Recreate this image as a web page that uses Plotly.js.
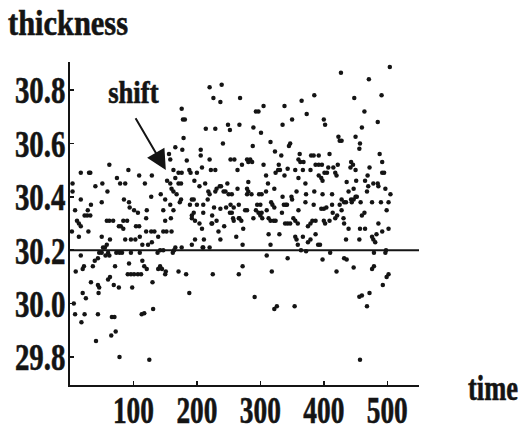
<!DOCTYPE html>
<html>
<head>
<meta charset="utf-8">
<script src="https://cdn.plot.ly/plotly-3.0.1.min.js"></script>
<style>
  html, body { margin: 0; padding: 0; background: #ffffff; }
  #chart { width: 526px; height: 439px; }
</style>
</head>
<body>
<div id="chart"></div>
<script>
// ---- data (time, thickness) ----
const timeA = [62,17,32,92,109,129,74,51,40,79, 87,118,59,4,4,128,85,93,17,50, 33,94,101,107,121,28,8,23,27,32, 11,14,58,62,68,84,90,120,77,80, 104,109,17,84,29,120,128,133,14,50, 63,87,96,103,110,58,55,52,114,123, 129,
  46,50,60,73,78,82,96,110,17,62, 56,44,39,36,71,93,114,117,121,22, 20,9,63,60,91,96,101,107,112,130, 33,44,46,69,77,98,20,25,45, 30,3];
const thickA = [30.52,30.49,30.49,30.50,30.48,30.48,30.47,30.45,30.44,30.45, 30.45,30.45,30.42,30.45,30.42,30.40,30.39,30.38,30.39,30.38, 30.37,30.36,30.35,30.34,30.35,30.35,30.35,30.33,30.33,30.33, 30.31,30.30,30.31,30.31,30.31,30.31,30.31,30.32,30.29,30.29, 30.29,30.29,30.29,30.28,30.27,30.27,30.27,30.27,30.25,30.25, 30.24,30.24,30.24,30.24,30.25,30.22,30.21,30.21,30.22,30.22, 30.23,
  30.19,30.19,30.19,30.19,30.19,30.19,30.19,30.19,30.18,30.18, 30.18,30.17,30.16,30.14,30.14,30.15,30.16,30.14,30.13,30.14, 30.13,30.12,30.10,30.09,30.11,30.11,30.11,30.11,30.11,30.08, 30.08,30.07,30.06,30.07,30.06,30.06,30.04,30.02,30.04, 30.49,30.27];

const timeB = [166,177,206,206,241,156,158,184,220,253,259,
  163,171,176,188,190,200,208,222,229,264,
  153,158,166,171,175,196,213,236,238,248,
  160,163,204,229,231,242,245,264,
  143,168,218,220,150,173,175,192,195,217,250,255,
  158,189,200,210,227,237,246,253,258,266,
  147,163,252,255,195,192,210,224,
  159,257,266,150,192,197,204,224,231,258,
  243,208,223,139,147,152,160,234,262,
  197,211,237,192,209,210,220,176,166,164,142,138,147,162,
  142,139,145,151,150,171,183,225,266,188];
const thickB = [30.586,30.576,30.576,30.555,30.60,30.56,30.54,30.536,30.54,30.54,30.54,
  30.50,30.49,30.49,30.50,30.49,30.49,30.51,30.50,30.50,30.50,
  30.46,30.45,30.47,30.45,30.45,30.46,30.45,30.44,30.44,30.45,
  30.43,30.42,30.44,30.42,30.43,30.42,30.42,30.43,
  30.41,30.41,30.42,30.41,30.39,30.38,30.39,30.39,30.39,30.39,30.41,30.41,
  30.37,30.37,30.37,30.37,30.36,30.355,30.36,30.37,30.36,30.37,
  30.35,30.35,30.34,30.34,30.34,30.33,30.34,30.33,
  30.32,30.32,30.32,30.31,30.32,30.31,30.30,30.30,30.31,30.31,
  30.29,30.28,30.30,30.25,30.27,30.27,30.27,30.27,30.25,
  30.24,30.24,30.24,30.22,30.21,30.21,30.21,30.21,30.21,30.20,30.20,30.19,30.20,30.19,
  30.14,30.13,30.13,30.12,30.11,30.12,30.11,30.11,30.11,30.04];

const timeC = [288,316,347,345,323,333,362,360,380,384,392,
  271,279,284,287,281,305,329,328,331,324,343,355,363,368,367,379,387,392,397,
  309,338,392,396,398,281,312,360,371,
  279,281,286,279,298,302,309,322,357,372,385,335,349,350,371,398,
  317,319,295,300,322,337,340,342,384,
  276,279,293,297,302,300,303,310,334,360,396,400,
  267,270,289,313,316,321,324,352,355,359,339,343,347,375,379,382,387,400,
  273,313,330,355,357,367,375,379,387,391,394,272,316,359,364,372,
  310,343,398,272,318,291];
const thickC = [30.59,30.605,30.60,30.59,30.57,30.555,30.56,30.54,30.555,30.555,30.555,
  30.52,30.54,30.54,30.53,30.53,30.52,30.52,30.50,30.50,30.49,30.505,30.50,30.53,30.53,30.50,30.50,30.52,30.52,30.52,
  30.48,30.48,30.48,30.47,30.46,30.455,30.45,30.47,30.45,
  30.43,30.42,30.41,30.41,30.41,30.41,30.42,30.43,30.42,30.41,30.42,30.40,30.40,30.39,30.38,30.41,
  30.38,30.37,30.37,30.37,30.36,30.37,30.37,30.37,30.37,
  30.35,30.35,30.35,30.34,30.34,30.33,30.32,30.35,30.34,30.35,30.355,30.355,
  30.32,30.31,30.32,30.32,30.31,30.31,30.31,30.32,30.31,30.30,30.30,30.30,30.30,30.29,30.30,30.31,30.31,30.31,
  30.28,30.26,30.26,30.25,30.24,30.25,30.23,30.24,30.26,30.22,30.22,30.22,30.22,30.22,30.20,30.196,
  30.18,30.17,30.165,30.14,30.12,30.025];

const timeD = [428,457,456,409,488,492,
  443,446,442,422,407,405,401,415,418,420,472,450,451,465,469,492,495,
  413,436,447,439,470,478,485,486,497,505,468,
  452,450,428,432,435,443,444,447,458,476,490,502,
  404,413,425,428,414,418,421,431,409,402,460,464,499,
  432,439,457,465,486,492,502,
  435,456,476,483,478,481,
  479,498,497,410,432,436,447,420,476,479,502,499,493,472,460];
const thickD = [30.61,30.60,30.58,30.56,30.56,30.53,
  30.53,30.52,30.51,30.52,30.51,30.49,30.49,30.51,30.49,30.48,30.51,30.50,30.46,30.46,30.48,30.49,30.49,
  30.41,30.455,30.43,30.42,30.44,30.45,30.45,30.44,30.43,30.41,30.42,
  30.40,30.40,30.39,30.38,30.38,30.39,30.38,30.39,30.38,30.38,30.38,30.38,
  30.36,30.37,30.37,30.35,30.34,30.32,30.33,30.32,30.31,30.30,30.33,30.34,30.35,
  30.30,30.28,30.28,30.28,30.30,30.27,30.28,
  30.24,30.24,30.25,30.26,30.24,30.23,
  30.19,30.20,30.19,30.19,30.17,30.165,30.135,30.12,30.13,30.14,30.11,30.10,30.07,30.04,30.03];

// outlying points (far above / far below the bulk)
const timeE = [176,178,181,179,214,220,226,229,237,239,249,252,268,267,289,293,297,301,305,335,338,350,365,373,385,400,402,423,425,427,448,450,460,464,471,485,491,504,
  6,8,18,23,41,44,66,70,65,72,78,113,117,125,131,322,326,354,456,457,468];
const thickE = [30.73,30.69,30.69,30.62,30.655,30.81,30.77,30.655,30.755,30.82,30.67,30.65,30.77,30.67,30.66,30.72,30.72,30.64,30.74,30.67,30.74,30.69,30.76,30.71,30.78,30.69,30.67,30.625,30.61,30.865,30.77,30.625,30.66,30.72,30.84,30.68,30.78,30.886,
  30.00,29.96,29.93,29.96,29.86,29.96,29.95,29.95,29.88,29.895,29.80,29.96,29.964,29.79,29.98,29.98,29.99,29.99,30.026,29.79,29.99];

const xTickVals = [100, 200, 300, 400, 500];
const yTickVals = [29.8, 30.0, 30.2, 30.4, 30.6, 30.8];
const targetLevel = 30.2;           // horizontal reference line
const arrowTip = {time: 151, thickness: 30.50};
const arrowTail = {time: 102, thickness: 30.70};

const time = [].concat(timeA, timeB, timeC, timeD, timeE);
const thickness = [].concat(thickA, thickB, thickC, thickD, thickE);

const INK = '#141414';
const FONT = 'Liberation Serif, Times New Roman, serif';

const data = [{
  type: 'scatter',
  mode: 'markers',
  x: time,
  y: thickness,
  marker: {size: 4.5, color: INK},
  hoverinfo: 'skip',
  cliponaxis: false
}];

const axisCommon = {
  showgrid: false,
  zeroline: false,
  showline: true,
  linewidth: 2,
  linecolor: INK,
  ticks: 'inside',
  ticklen: 4,
  tickwidth: 1.5,
  tickcolor: INK,
  tickfont: {family: FONT, size: 38, weight: 'bold', color: INK},
  fixedrange: true
};

const layout = {
  width: 526,
  height: 439,
  margin: {l: 70, r: 107, t: 62, b: 54, pad: 0},
  paper_bgcolor: '#ffffff',
  plot_bgcolor: '#ffffff',
  showlegend: false,
  font: {family: FONT, color: INK},
  xaxis: Object.assign({}, axisCommon, {
    range: [0, 550],
    tickmode: 'array',
    tickvals: xTickVals,
    ticktext: xTickVals.map(String)
  }),
  yaxis: Object.assign({}, axisCommon, {
    range: [29.695, 30.905],
    tickmode: 'array',
    tickvals: yTickVals,
    ticktext: yTickVals.map(v => v.toFixed(1))
  }),
  shapes: [{
    type: 'line', xref: 'paper', x0: 0, x1: 1,
    yref: 'y', y0: targetLevel, y1: targetLevel,
    line: {color: INK, width: 2}
  }],
  annotations: [
    {text: 'thickness', xref: 'paper', yref: 'paper', x: -0.006, y: 1.121,
     xanchor: 'center', yanchor: 'middle', showarrow: false,
     font: {family: FONT, size: 36, weight: 'bold', color: INK}},
    {text: 'time', xref: 'paper', yref: 'paper', x: 1.212, y: -0.012,
     xanchor: 'center', yanchor: 'middle', showarrow: false,
     font: {family: FONT, size: 35, weight: 'bold', color: INK}},
    {text: 'shift', xref: 'paper', yref: 'paper', x: 0.182, y: 0.907,
     xanchor: 'center', yanchor: 'middle', showarrow: false,
     font: {family: FONT, size: 31, weight: 'bold', color: INK}},
    {text: '', xref: 'x', yref: 'y', x: arrowTip.time, y: arrowTip.thickness,
     axref: 'x', ayref: 'y', ax: arrowTail.time, ay: arrowTail.thickness,
     showarrow: true, arrowhead: 2, arrowsize: 2, arrowwidth: 2, arrowcolor: INK}
  ]
};

function embolden(t) {
  t.style.stroke = INK;
  t.style.strokeWidth = '0.6px';
  t.style.paintOrder = 'stroke';
}

// compress a text element horizontally about its own centre with a transform
function narrow(t, s) {
  const b = t.getBBox();
  const cx = b.x + b.width / 2;
  const prev = t.getAttribute('transform') || '';
  t.setAttribute('transform',
    (prev + ' translate(' + cx.toFixed(2) + ',0) scale(' + s.toFixed(4) + ',1) translate(' + (-cx).toFixed(2) + ',0)').trim());
}

function squeeze(gd) {
  // the reference uses a narrow, heavy serif: compress glyphs horizontally
  gd.querySelectorAll('.xtick text').forEach(t => {
    const w = t.getComputedTextLength();
    t.setAttribute('textLength', (w * 0.72).toFixed(1));
    t.setAttribute('lengthAdjust', 'spacingAndGlyphs');
    const y = parseFloat(t.getAttribute('y')) || 0;
    t.setAttribute('y', (y - 10).toFixed(1));
    embolden(t);
  });
  gd.querySelectorAll('.ytick text').forEach(t => {
    const w = t.getComputedTextLength();
    t.setAttribute('textLength', (w * 0.76).toFixed(1));
    t.setAttribute('lengthAdjust', 'spacingAndGlyphs');
    const x = parseFloat(t.getAttribute('x')) || 0;
    t.setAttribute('x', (x + 5).toFixed(1));
    embolden(t);
  });
  const targets = {thickness: 120, time: 50, shift: 51};
  gd.querySelectorAll('.annotation-text').forEach(t => {
    const k = t.textContent.trim();
    if (targets[k]) {
      const w = t.getBBox().width;
      if (w > 0) narrow(t, targets[k] / w);
      embolden(t);
    }
  });
}

Plotly.newPlot('chart', data, layout, {staticPlot: true, displayModeBar: false})
  .then(gd => squeeze(gd));
</script>
</body>
</html>
